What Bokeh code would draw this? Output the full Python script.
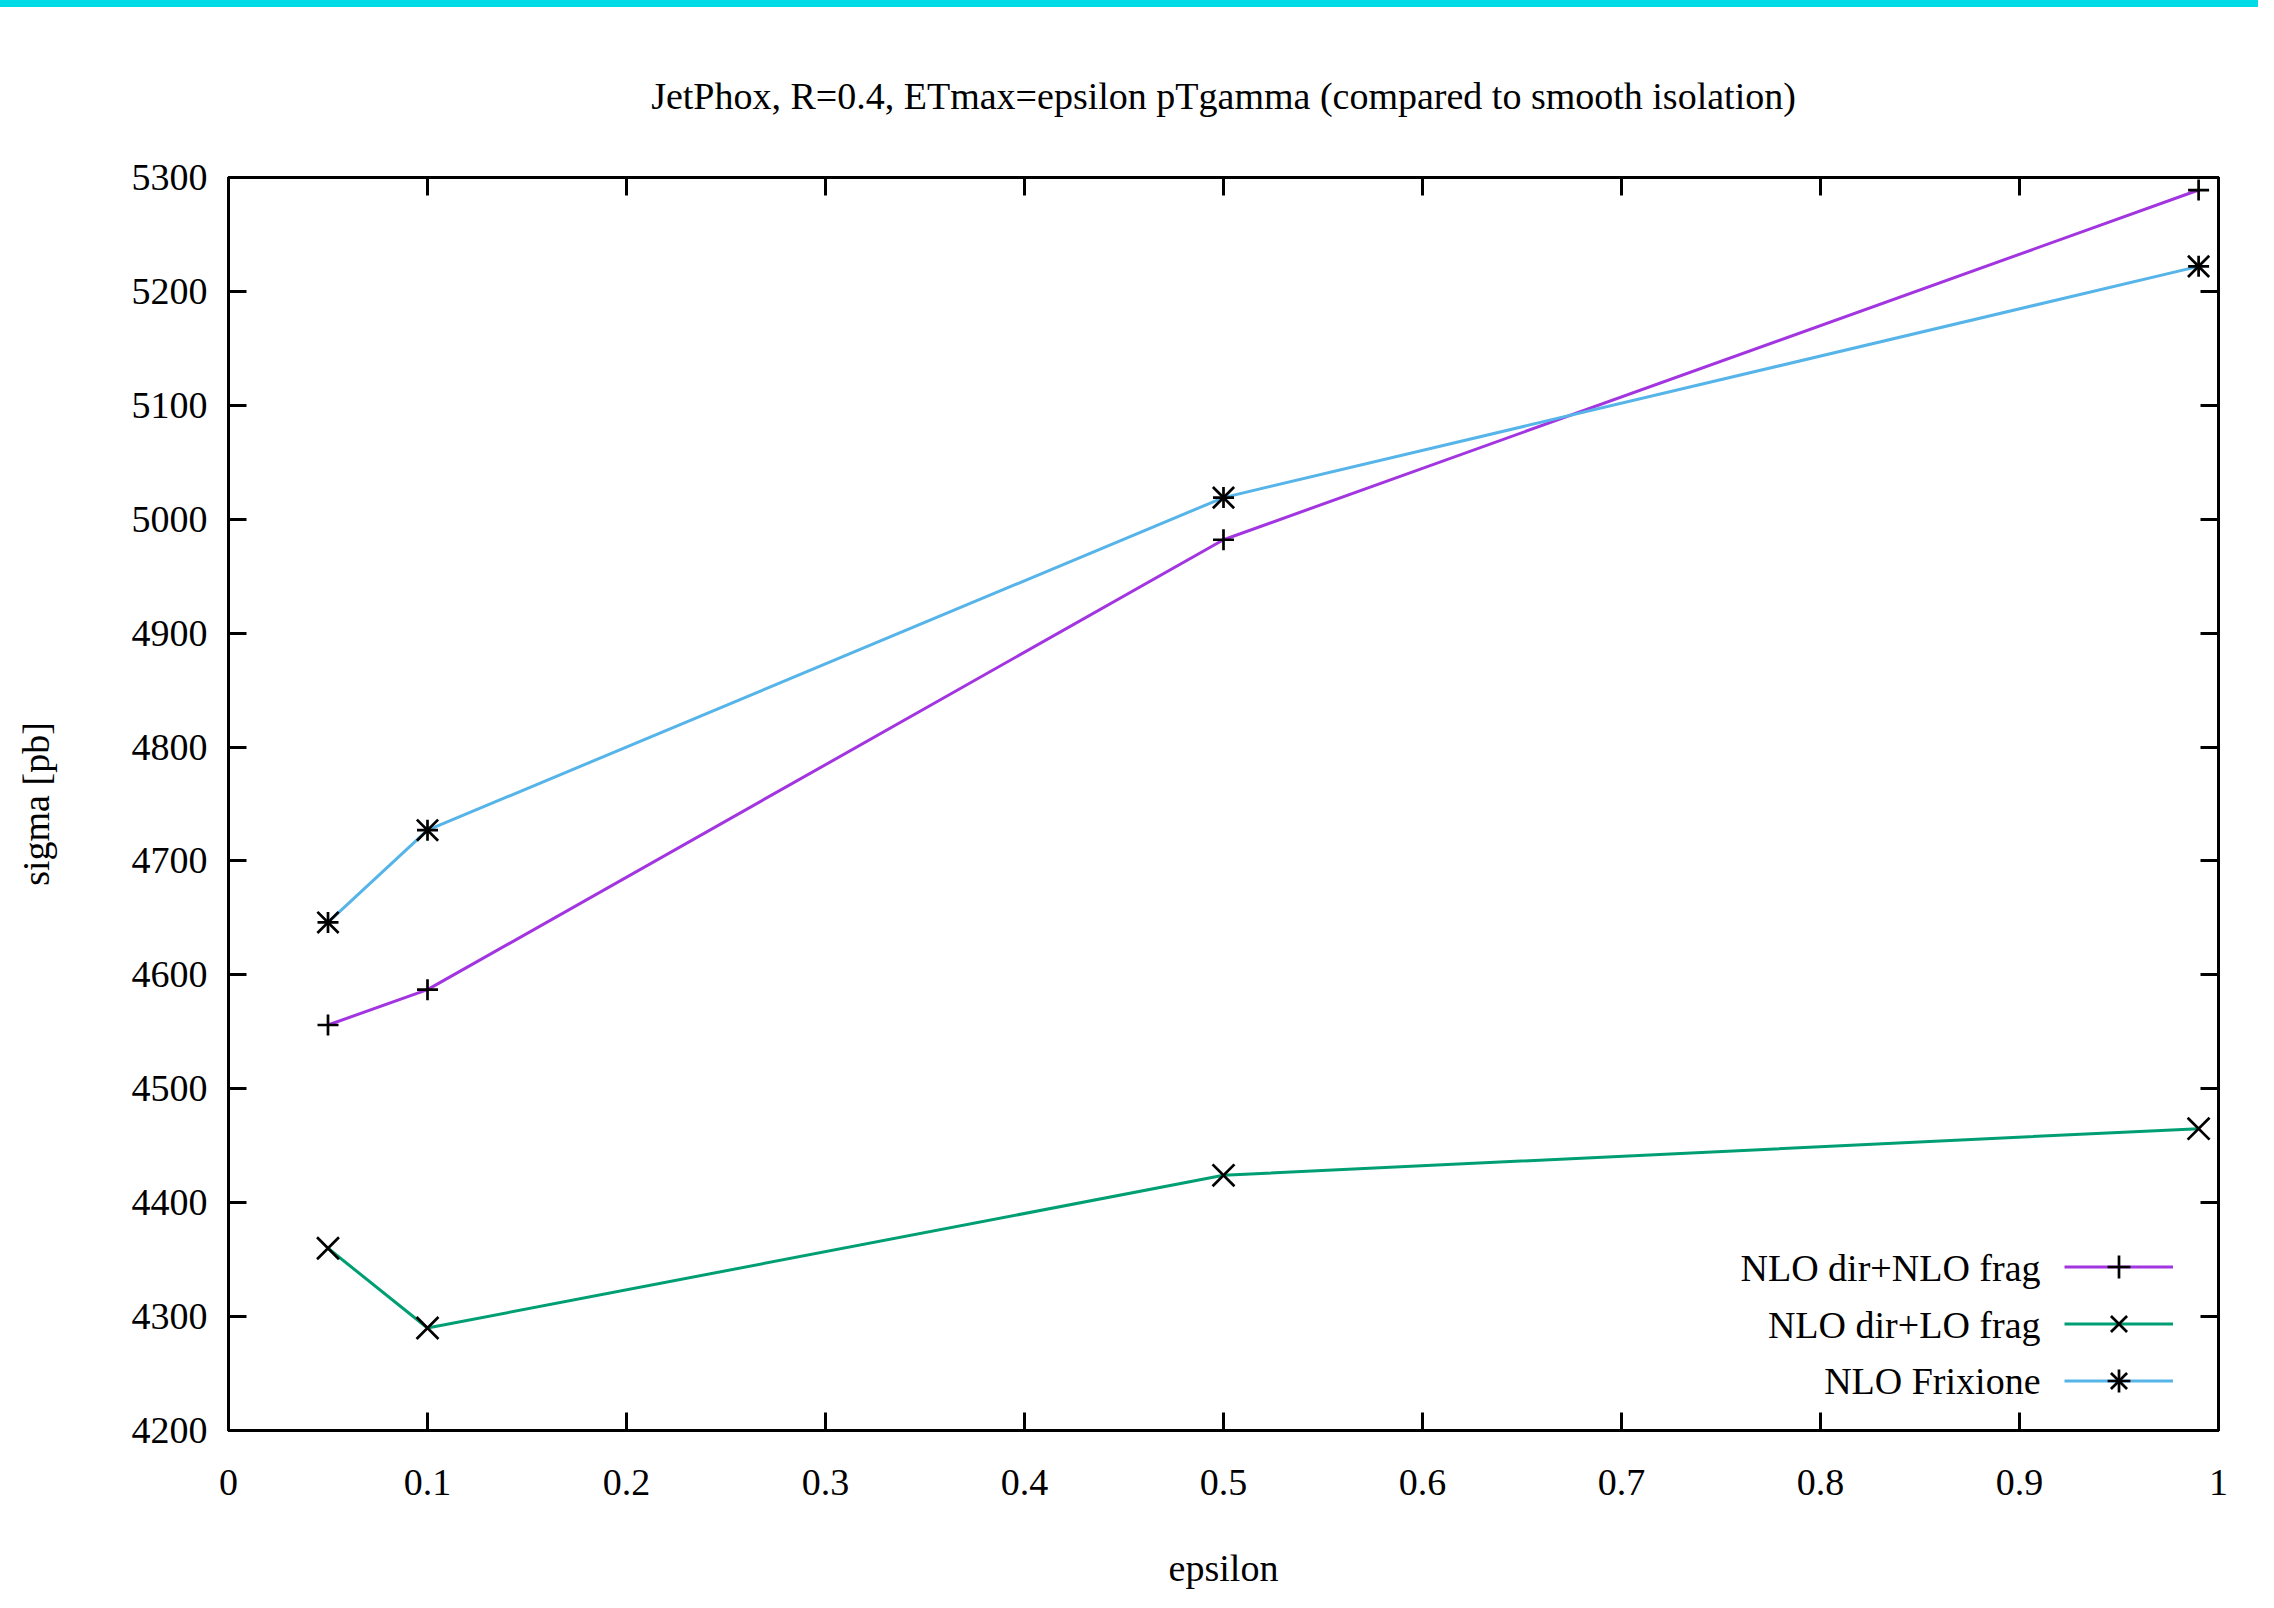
from bokeh.plotting import figure
from bokeh.models import (Range1d, LinearAxis, FixedTicker, Legend, LegendItem,
                          Label, CustomJSTickFormatter, Div)
from bokeh.layouts import column
from bokeh.embed import file_html
from bokeh.resources import INLINE

# ---- data ----
epsilon = [0.05, 0.1, 0.5, 0.99]
nlo_dir_nlo_frag = [4556, 4587, 4982, 5289]
nlo_dir_lo_frag = [4360, 4290, 4424, 4465]
nlo_frixione = [4646, 4727, 5019, 5222]
series_names = ["NLO dir+NLO frag", "NLO dir+LO frag", "NLO Frixione"]

x_ticks = [0, 0.1, 0.2, 0.3, 0.4, 0.5, 0.6, 0.7, 0.8, 0.9, 1]
x_tick_labels = ["0", "0.1", "0.2", "0.3", "0.4", "0.5", "0.6", "0.7", "0.8", "0.9", "1"]
y_ticks = [4200, 4300, 4400, 4500, 4600, 4700, 4800, 4900, 5000, 5100, 5200, 5300]

title_text = "JetPhox, R=0.4, ETmax=epsilon pTgamma (compared to smooth isolation)"
x_label = "epsilon"
y_label = "sigma [pb]"

FONT = "Liberation Serif"
FS = "38px"

p = figure(width=2258, height=1585, output_backend="svg", toolbar_location=None,
           x_range=Range1d(0, 1), y_range=Range1d(4200, 5300),
           min_border_left=228, min_border_right=40, min_border_top=170,
           min_border_bottom=162, background_fill_color="white",
           border_fill_color="white")
p.grid.visible = False
p.outline_line_color = "black"
p.outline_line_width = 3

p.title.text = title_text
p.title.text_font = FONT
p.title.text_font_size = FS
p.title.text_font_style = "normal"
p.title.text_color = "black"
p.title.align = "center"
p.title.standoff = 121

def style_axis(ax):
    ax.axis_line_width = 3
    ax.axis_line_color = "black"
    ax.major_tick_line_width = 3
    ax.major_tick_line_color = "black"
    ax.major_tick_in = 18
    ax.major_tick_out = 0
    ax.minor_tick_in = 0
    ax.minor_tick_out = 0
    ax.major_label_text_font = FONT
    ax.major_label_text_font_size = FS
    ax.major_label_text_color = "black"
    ax.axis_label_text_font = FONT
    ax.axis_label_text_font_size = FS
    ax.axis_label_text_font_style = "normal"
    ax.axis_label_text_color = "black"

xa = p.xaxis[0]
ya = p.yaxis[0]
style_axis(xa)
style_axis(ya)
xa.ticker = FixedTicker(ticks=x_ticks)
xa.major_label_overrides = {t: l for t, l in zip(x_ticks, x_tick_labels)}
ya.ticker = FixedTicker(ticks=y_ticks)
xa.axis_label = x_label
ya.axis_label = y_label
xa.major_label_standoff = 39
ya.major_label_standoff = 21
xa.axis_label_standoff = 49
ya.axis_label_standoff = 72

blank = CustomJSTickFormatter(code="return ''")
top = LinearAxis(ticker=FixedTicker(ticks=x_ticks), formatter=blank)
right = LinearAxis(ticker=FixedTicker(ticks=y_ticks), formatter=blank)
for ax in (top, right):
    style_axis(ax)
    ax.major_label_standoff = 0
p.add_layout(top, "above")
p.add_layout(right, "right")

colors = ["#A235E0", "#009E73", "#56B4E9"]
marker_sets = [[("cross", 21)], [("x", 31)], [("cross", 21), ("x", 30)]]
series = [nlo_dir_nlo_frag, nlo_dir_lo_frag, nlo_frixione]

items = []
for name, ys, c, ms in zip(series_names, series, colors, marker_sets):
    rs = [p.line(epsilon, ys, line_color=c, line_width=3)]
    for m, s in ms:
        rs.append(p.scatter(epsilon, ys, marker=m, size=s, line_color="black",
                            line_width=2.7, fill_color=None))
    items.append(LegendItem(label=" ", renderers=rs))

legend = Legend(items=items, location=(1836, 21), orientation="vertical",
                glyph_width=109, glyph_height=57, label_height=57, label_width=0,
                label_standoff=0, spacing=0, padding=0, margin=0,
                border_line_color=None, background_fill_alpha=0,
                label_text_font_size="2px")
p.add_layout(legend, "center")

row_y = [163, 106, 50]
for name, yy in zip(series_names, row_y):
    p.add_layout(Label(x=1812, y=yy, x_units="screen", y_units="screen",
                       text=name, text_align="right", text_baseline="middle",
                       text_font=FONT, text_font_size=FS, text_color="black"))

bar = Div(text="", width=2258, height=7, margin=0,
          styles={"background-color": "#00DCE6"})

open("out.html", "w").write(file_html(column(bar, p, spacing=0), INLINE))
